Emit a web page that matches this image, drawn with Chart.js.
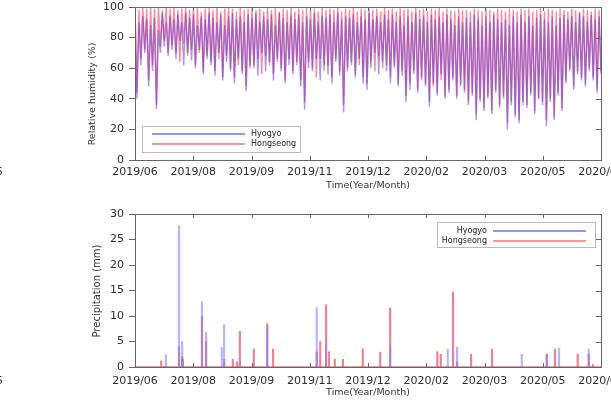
<!DOCTYPE html>
<html>
<head>
<meta charset="utf-8">
<script src="https://cdn.jsdelivr.net/npm/chart.js@4.4.1/dist/chart.umd.min.js"></script>
<style>
  html, body { margin: 0; padding: 0; background: #fff; }
  #wrap { position: relative; width: 611px; height: 400px; }
  .box { position: absolute; left: 0; width: 611px; height: 200px; }
</style>
</head>
<body>
<div id="wrap">
  <div class="box" style="top:0"><canvas id="rh" width="611" height="200"></canvas></div>
  <div class="box" style="top:200px"><canvas id="rain" width="611" height="200"></canvas></div>
</div>
<script>
// tick labels on the time axis (evenly spaced in the original figure)
const tickLabels = ['2019/06', '2019/08', '2019/09', '2019/11', '2019/12', '2020/02', '2020/03', '2020/05', '2020/07'];

const hyogyoRH = [
  95,40,90,62,94,70,92,48,88,58, 93,33,85,70,96,74,90,68,94,72,
  92,66,95,78,90,62,96,70,93,65, 95,60,88,72,94,56,92,68,96,62,
  93,55,90,70,95,52,88,64,94,58, 96,50,92,66,94,56,90,45,95,60,
  93,62,96,55,90,70,94,58,92,64, 95,52,88,66,96,58,93,50,90,62,
  94,56,92,64,95,48,90,33,94,60, 92,58,96,66,90,52,94,62,93,56,
  95,50,90,64,96,55,92,31,94,58, 93,62,95,54,90,66,94,50,92,46,
  96,60,92,70,94,56,90,64,95,58, 92,50,95,62,90,48,94,55,88,38,
  94,46,90,58,96,44,92,52,94,48, 90,35,95,50,92,42,94,56,90,40,
  95,44,92,52,88,40,94,48,90,46, 93,36,90,42,95,26,92,38,88,32,
  94,40,90,30,95,44,92,34,90,42, 92,20,88,36,94,28,90,24,95,38,
  90,34,94,42,88,30,93,40,95,36, 92,22,90,38,94,26,88,42,93,32,
  95,50,92,58,94,46,90,56,96,52, 94,48,90,58,95,52,92,44,94,56
];
const hongseongRH = [
  100,44,98,66,100,72,99,52,100,62, 99,36,100,74,98,78,100,70,99,75,
  100,70,98,64,99,76,100,68,98,72, 99,62,100,70,97,58,99,66,100,64,
  98,58,100,66,97,54,99,68,100,60, 99,54,97,62,100,58,98,48,99,62,
  100,60,98,66,99,56,97,68,100,62, 98,56,100,64,97,60,99,52,98,66,
  100,58,97,62,99,52,98,38,100,64, 98,60,99,54,97,66,100,58,98,62,
  99,54,98,66,100,58,97,36,99,60, 98,64,100,56,97,62,99,54,98,50,
  100,64,98,58,99,68,97,60,100,62, 98,54,99,60,97,50,100,58,98,42,
  99,50,97,56,100,46,98,54,99,50, 97,38,99,48,98,44,100,52,97,42,
  99,46,98,54,97,42,99,50,98,44, 98,38,97,44,99,30,98,40,97,34,
  99,42,98,32,97,46,99,36,98,40, 97,24,99,38,98,30,97,26,99,36,
  98,36,99,44,97,32,98,40,99,38, 97,26,99,40,98,28,97,44,99,34,
  98,52,97,60,99,48,98,58,97,54, 99,50,98,60,97,54,99,46,98,58
];

// precipitation (mm) events: position on the time axis (in tick units) and amount
const rainPos = [0.45, 0.53, 0.755, 0.81, 0.82, 1.15, 1.22, 1.49, 1.53, 1.68, 1.75, 1.8, 2.04, 2.27, 2.37,
  3.12, 3.18, 3.28, 3.33, 3.43, 3.57, 3.91, 4.21, 4.38, 5.19, 5.25, 5.37, 5.46, 5.53, 5.77, 6.13,
  6.64, 7.07, 7.21, 7.28, 7.6, 7.79, 7.86];
const hyogyoRain = [0, 2.4, 27.7, 5, 1, 12.8, 6.8, 3.8, 8.3, 0, 0, 1, 0, 8, 0,
  11.6, 0, 4, 0, 0, 0, 0, 0, 4, 0, 0, 3.5, 0, 3.9, 0, 0,
  2.5, 2.5, 0, 3.7, 0, 3.5, 0];
const hongseongRain = [1.2, 0, 4, 2, 1.5, 9.9, 5, 0, 1.5, 1.5, 1, 7, 3.5, 8.5, 3.5,
  3, 5, 12.2, 3, 1.5, 1.5, 3.5, 2.9, 11.6, 3, 2.5, 0, 14.7, 1, 2.5, 3.5,
  0, 2.5, 3.5, 0, 2.5, 2.5, 0.5];

const BLUE = 'rgba(80, 50, 220, 0.5)';
const RED = 'rgba(255, 60, 90, 0.6)';
const TICK_FONT = { family: 'DejaVu Sans', size: 11 };

// box frame, inward ticks, custom legend and axis titles
const framePlugin = {
  id: 'frame',
  afterDatasetsDraw(chart, args, opts) {
    const { ctx, chartArea: a, scales } = chart;
    ctx.save();
    if (opts.baseline) {
      ctx.strokeStyle = opts.baseline;
      ctx.beginPath();
      ctx.moveTo(a.left, a.bottom - 0.5);
      ctx.lineTo(a.right, a.bottom - 0.5);
      ctx.stroke();
    }
    ctx.strokeStyle = '#666';
    ctx.lineWidth = 1;
    ctx.strokeRect(a.left + 0.5, a.top + 0.5, a.right - a.left, a.bottom - a.top);
    ctx.beginPath();
    scales.x.ticks.forEach(t => {
      const px = Math.round(scales.x.getPixelForValue(t.value)) + 0.5;
      ctx.moveTo(px, a.top); ctx.lineTo(px, a.top + 4);
      ctx.moveTo(px, a.bottom); ctx.lineTo(px, a.bottom - 4);
    });
    scales.y.ticks.forEach(t => {
      const py = Math.round(scales.y.getPixelForValue(t.value)) + 0.5;
      ctx.moveTo(a.right, py); ctx.lineTo(a.right - 5, py);
    });
    ctx.stroke();

    // legend
    const lg = opts.legend;
    ctx.fillStyle = '#fff';
    ctx.fillRect(lg.x, lg.y, lg.w, lg.h);
    ctx.strokeStyle = '#bbb';
    ctx.strokeRect(lg.x + 0.5, lg.y + 0.5, lg.w, lg.h);
    ctx.font = '8px "DejaVu Sans"';
    ctx.textBaseline = 'middle';
    ctx.textAlign = lg.textAlign;
    chart.data.datasets.forEach((ds, i) => {
      const y = lg.rows[i];
      ctx.strokeStyle = ds.legendColor;
      ctx.lineWidth = 2;
      ctx.beginPath();
      ctx.moveTo(lg.line[0], y);
      ctx.lineTo(lg.line[1], y);
      ctx.stroke();
      ctx.fillStyle = '#222';
      ctx.fillText(ds.label, lg.textX, y);
    });

    // axis titles and stray text
    ctx.fillStyle = '#333';
    opts.titles.forEach(t => {
      ctx.save();
      ctx.translate(t.x, t.y);
      ctx.rotate(t.rot || 0);
      ctx.font = t.size + 'px "DejaVu Sans"';
      ctx.textAlign = t.align || 'center';
      ctx.textBaseline = 'middle';
      ctx.fillText(t.text, 0, 0);
      ctx.restore();
    });
    ctx.restore();
  }
};

function xScale(height, pad) {
  return {
    type: 'linear', min: 0, max: tickLabels.length - 1, offset: false,
    grid: { display: false, drawTicks: false },
    border: { display: false },
    ticks: {
      stepSize: 1, autoSkip: false, maxRotation: 0, padding: pad,
      color: '#2e2e2e', font: TICK_FONT,
      callback: v => tickLabels[v]
    },
    afterFit: s => { s.height = height; s.paddingLeft = 0; s.paddingRight = 0; }
  };
}

function yScale(max, step) {
  return {
    min: 0, max: max,
    grid: { drawOnChartArea: false, tickLength: 6, color: '#666' },
    border: { display: false },
    ticks: { stepSize: step, padding: 5, color: '#2e2e2e', font: TICK_FONT },
    afterFit: s => { s.width = 135; s.paddingTop = 0; s.paddingBottom = 0; }
  };
}

const rhX = hyogyoRH.map((v, i) => i * (tickLabels.length - 1) / (hyogyoRH.length - 1));

new Chart(document.getElementById('rh'), {
  type: 'line',
  data: {
    datasets: [
      { label: 'Hyogyo', data: hyogyoRH.map((v, i) => ({ x: rhX[i], y: v })),
        borderColor: BLUE, borderWidth: 1.4, pointRadius: 0, tension: 0, legendColor: 'rgba(110,110,255,0.75)' },
      { label: 'Hongseong', data: hongseongRH.map((v, i) => ({ x: rhX[i], y: v })),
        borderColor: RED, borderWidth: 1.4, pointRadius: 0, tension: 0, legendColor: 'rgba(255,110,110,0.75)' }
    ]
  },
  options: {
    responsive: false, animation: false,
    layout: { padding: { top: 7, right: 10, left: 0, bottom: 0 } },
    scales: { x: xScale(40, 6), y: yScale(100, 20) },
    plugins: {
      legend: { display: false }, tooltip: { enabled: false },
      frame: {
        legend: { x: 142, y: 126, w: 158, h: 26, line: [152, 245], rows: [134, 144], textX: 251, textAlign: 'left' },
        titles: [
          { text: 'Relative humidity (%)', x: 93, y: 94, rot: -Math.PI / 2, size: 9.5 },
          { text: 'Time(Year/Month)', x: 368, y: 186, size: 9.5 },
          { text: '5', x: -4, y: 172, size: 11, align: 'left' }
        ]
      }
    }
  },
  plugins: [framePlugin]
});

new Chart(document.getElementById('rain'), {
  type: 'bar',
  data: {
    datasets: [
      { label: 'Hyogyo', data: rainPos.map((x, i) => ({ x: x, y: hyogyoRain[i] })),
        backgroundColor: 'rgba(130,130,255,0.6)', barThickness: 1.5, grouped: false, legendColor: 'rgba(110,110,255,0.75)' },
      { label: 'Hongseong', data: rainPos.map((x, i) => ({ x: x, y: hongseongRain[i] })),
        backgroundColor: 'rgba(235,60,90,0.65)', barThickness: 1.5, grouped: false, legendColor: 'rgba(255,110,110,0.75)' }
    ]
  },
  options: {
    responsive: false, animation: false,
    layout: { padding: { top: 14, right: 10, left: 0, bottom: 0 } },
    scales: { x: xScale(33, 8), y: yScale(30, 5) },
    plugins: {
      legend: { display: false }, tooltip: { enabled: false },
      frame: {
        baseline: 'rgba(230,80,90,0.6)',
        legend: { x: 437, y: 22, w: 158, h: 25, line: [493, 586], rows: [31, 41], textX: 487, textAlign: 'right' },
        titles: [
          { text: 'Precipitation (mm)', x: 97, y: 91, rot: -Math.PI / 2, size: 10 },
          { text: 'Time(Year/Month)', x: 368, y: 193, size: 9.5 },
          { text: '5', x: -4, y: 181, size: 11, align: 'left' }
        ]
      }
    }
  },
  plugins: [framePlugin]
});
</script>
</body>
</html>
